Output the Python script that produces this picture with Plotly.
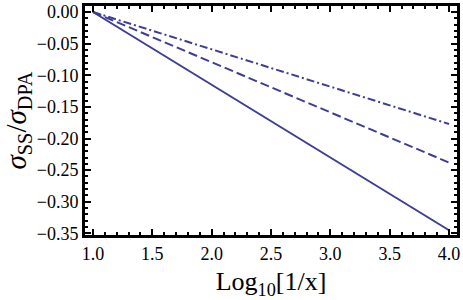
import plotly.graph_objects as go

x_vals = [1.0, 4.0]
solid_vals = [0.0, -0.345]
dashed_vals = [0.0, -0.238]
dashdot_vals = [0.0, -0.177]

x_ticks = [1.0, 1.5, 2.0, 2.5, 3.0, 3.5, 4.0]
x_ticktext = ["1.0", "1.5", "2.0", "2.5", "3.0", "3.5", "4.0"]
y_ticks = [0.0, -0.05, -0.10, -0.15, -0.20, -0.25, -0.30, -0.35]
y_ticktext = ["0.00", "\u22120.05", "\u22120.10", "\u22120.15", "\u22120.20", "\u22120.25", "\u22120.30", "\u22120.35"]

color = "#3D3D99"
serif = "Liberation Serif, DejaVu Serif, serif"
fig = go.Figure()
fig.add_trace(go.Scatter(x=x_vals, y=solid_vals, mode="lines",
                         line=dict(color=color, width=2, dash="solid")))
fig.add_trace(go.Scatter(x=x_vals, y=dashed_vals, mode="lines",
                         line=dict(color=color, width=2, dash="9px,4px")))
fig.add_trace(go.Scatter(x=x_vals, y=dashdot_vals, mode="lines",
                         line=dict(color=color, width=2, dash="8px,3px,2px,3px")))

fig.update_layout(template="none")
fig.update_layout(
    width=463, height=300,
    margin=dict(l=85, r=6, t=6, b=65),
    paper_bgcolor="white", plot_bgcolor="white",
    showlegend=False,
    font=dict(family=serif, size=18, color="black"),
)
fig.update_xaxes(range=[0.933, 4.067], tickvals=x_ticks, ticktext=x_ticktext,
               tickfont=dict(family=serif, size=18, color="black"),
               ticks="inside", ticklen=6, tickwidth=2, tickcolor="black",
               minor=dict(dtick=0.1, ticks="inside", ticklen=3, tickwidth=1.5, tickcolor="black"),
               showline=True, linewidth=3, linecolor="black", mirror="allticks",
               showgrid=False, zeroline=False, ticklabeloverflow="allow",
               title=dict(text="Log<sub>10</sub>[1/x]", font=dict(family=serif, size=26, color="black"), standoff=10))
fig.update_yaxes(range=[-0.3525, 0.0095], tickvals=y_ticks, ticktext=y_ticktext,
               tickfont=dict(family=serif, size=18, color="black"),
               ticks="inside", ticklen=6, tickwidth=2, tickcolor="black",
               minor=dict(dtick=0.01, ticks="inside", ticklen=3, tickwidth=1.5, tickcolor="black"),
               showline=True, linewidth=3, linecolor="black", mirror="allticks",
               showgrid=False, zeroline=False, ticklabeloverflow="allow",
               title=dict(text="<i>σ</i><sub>SS</sub>/<i>σ</i><sub>DPA</sub>", font=dict(family=serif, size=29, color="black"), standoff=3))
fig.write_html("out.html", config={"displayModeBar": False},
               post_script="document.body.style.margin='0';document.body.style.padding='0';")
